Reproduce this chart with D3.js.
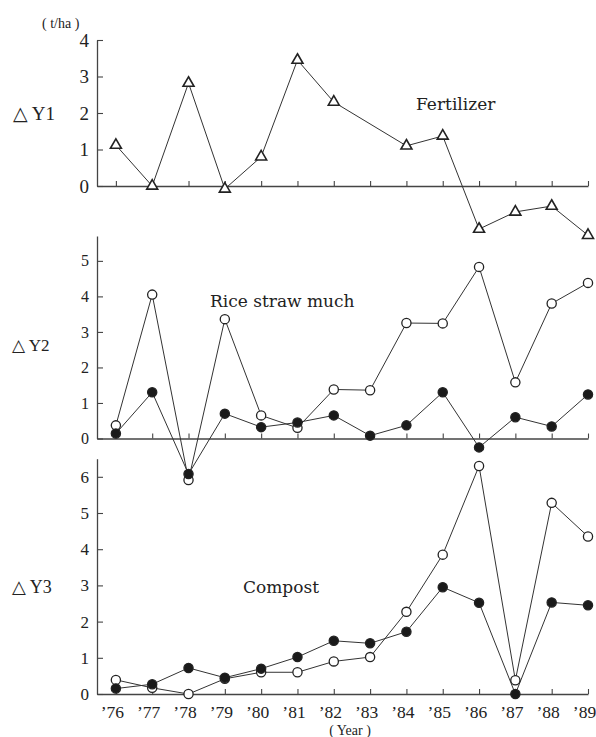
<!DOCTYPE html>
<html>
<head>
<meta charset="utf-8">
<script src="https://cdn.jsdelivr.net/npm/d3@7"></script>
<style>
  body { margin: 0; background: #fff; }
  svg { display: block; }
  svg text { font-family: "Liberation Serif", "DejaVu Serif", serif; }
  svg text.lbl { font-family: "DejaVu Serif", serif; }
</style>
</head>
<body>
<svg id="chart" width="596" height="737"></svg>
<script>
// years on the x axis
const years = [1976, 1977, 1978, 1979, 1980, 1981, 1982, 1983, 1984, 1985, 1986, 1987, 1988, 1989];
const yearLabels = ["\u201976", "\u201977", "\u201978", "\u201979", "\u201980", "\u201981", "\u201982",
                    "\u201983", "\u201984", "\u201985", "\u201986", "\u201987", "\u201988", "\u201989"];

// delta Y1, fertilizer (no value for '83)
const fertY1 = [1.12, 0, 2.82, -0.08, 0.8, 3.45, 2.3, null, 1.1, 1.37, -1.18, -0.71, -0.55, -1.35];

// delta Y2, rice straw mulch
const strawOpen = [0.37, 4.05, -1.17, 3.36, 0.65, 0.3, 1.38, 1.36, 3.25, 3.24, 4.83, 1.58, 3.8, 4.38];
const strawFilled = [0.14, 1.3, -1.0, 0.7, 0.32, 0.45, 0.65, 0.08, 0.37, 1.3, -0.25, 0.6, 0.34, 1.24];

// delta Y3, compost
const compostOpen = [0.39, 0.17, 0, 0.42, 0.6, 0.6, 0.9, 1.02, 2.27, 3.85, 6.3, 0.38, 5.28, 4.35];
const compostFilled = [0.15, 0.27, 0.72, 0.45, 0.7, 1.02, 1.47, 1.4, 1.72, 2.95, 2.52, 0, 2.53, 2.45];

const ticksY1 = [0, 1, 2, 3, 4];
const ticksY2 = [0, 1, 2, 3, 4, 5];
const ticksY3 = [0, 1, 2, 3, 4, 5, 6];

const INK = "#222";
const LINE = "#333";

const svg = d3.select("#chart");

// x scale starts a little left of '76 so the axis meets the y axis
const x = d3.scaleLinear().domain([1975.48, 1989]).range([97, 588]);

// one entry per panel
const panels = [
  { y: d3.scaleLinear().domain([0, 4]).range([186, 40]), ticks: ticksY1, fs: 19 },
  { y: d3.scaleLinear().domain([0, 5.7]).range([438.5, 236]), ticks: ticksY2, fs: 16 },
  { y: d3.scaleLinear().domain([0, 6.5]).range([694, 458.7]), ticks: ticksY3, fs: 17 }
];

function styleAxis(g) {
  g.selectAll("path.domain").attr("stroke", "#444").attr("stroke-width", 1.3);
  g.selectAll(".tick line").attr("stroke", "#444").attr("stroke-width", 1.1);
}

panels.forEach((p, idx) => {
  // y axis, ticks point inward
  const ga = svg.append("g")
    .attr("transform", `translate(${x.range()[0]},0)`)
    .call(d3.axisLeft(p.y).tickValues(p.ticks).tickFormat(d3.format("d"))
      .tickSize(-6).tickSizeOuter(0).tickPadding(8));
  ga.attr("font-family", null);
  ga.selectAll("text").style("font-size", p.fs + "px").attr("fill", INK);
  styleAxis(ga);

  // x axis at zero, ticks point up
  const gx = svg.append("g")
    .attr("transform", `translate(0,${p.y(0)})`)
    .call(d3.axisBottom(x).tickValues(years).tickSize(-5).tickSizeOuter(0)
      .tickFormat((d, i) => idx === 2 ? yearLabels[i] : ""));
  gx.attr("font-family", null);
  gx.selectAll("text").style("font-size", "17.5px")
    .attr("fill", INK).attr("y", 12).attr("dx", -4).attr("dy", "0.71em");
  styleAxis(gx);
});

// draws one series line, returns the points
function series(vals, yScale) {
  const pts = years.map((yr, i) => ({ yr, v: vals[i] })).filter(d => d.v !== null);
  const line = d3.line().x(d => x(d.yr)).y(d => yScale(d.v));
  svg.append("path")
    .datum(pts)
    .attr("d", line)
    .attr("fill", "none")
    .attr("stroke", LINE)
    .attr("stroke-width", 1);
  return pts;
}

function circles(pts, yScale, filled) {
  svg.append("g").selectAll("circle")
    .data(pts)
    .join("circle")
    .attr("cx", d => x(d.yr))
    .attr("cy", d => yScale(d.v))
    .attr("r", 4.6)
    .attr("fill", filled ? "#1a1a1a" : "#fff")
    .attr("stroke", INK)
    .attr("stroke-width", 1.3);
}

// panel 1: fertilizer triangles
const p1 = series(fertY1, panels[0].y);
svg.append("g").selectAll("path")
  .data(p1)
  .join("path")
  .attr("transform", d => `translate(${x(d.yr)},${panels[0].y(d.v)})`)
  .attr("d", d3.symbol(d3.symbolTriangle, 52))
  .attr("fill", "#fff")
  .attr("stroke", INK)
  .attr("stroke-width", 1.6);

// panel 2: rice straw
const p2o = series(strawOpen, panels[1].y);
const p2f = series(strawFilled, panels[1].y);
circles(p2o, panels[1].y, false);
circles(p2f, panels[1].y, true);

// panel 3: compost
const p3o = series(compostOpen, panels[2].y);
const p3f = series(compostFilled, panels[2].y);
circles(p3o, panels[2].y, false);
circles(p3f, panels[2].y, true);

// texts
function txt(s, tx, ty, fs, cls, anchor) {
  svg.append("text")
    .attr("class", cls || null)
    .attr("x", tx).attr("y", ty)
    .style("font-size", fs + "px")
    .attr("fill", INK)
    .attr("text-anchor", anchor || "start")
    .text(s);
}

txt("( t/ha )", 42, 28, 14);
txt("△ Y1", 13, 120, 19);
txt("△ Y2", 12, 351, 17);
txt("△ Y3", 12, 593, 18);
txt("Fertilizer", 416, 110, 17, "lbl");
txt("Rice straw much", 210, 307, 17, "lbl");
txt("Compost", 243, 593, 17, "lbl");
txt("( Year )", 350, 735, 14, null, "middle");
</script>
</body>
</html>
